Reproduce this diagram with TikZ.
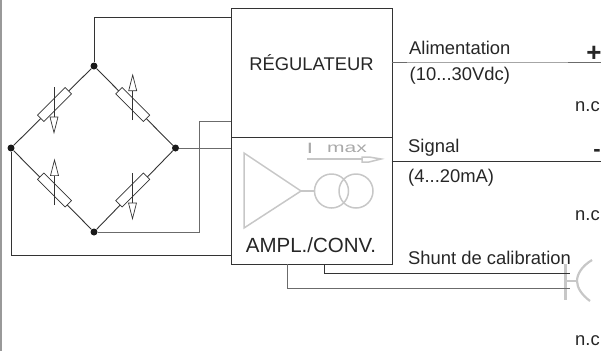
\documentclass[tikz,border=0pt]{standalone}
\usepackage{fontspec}
\setmainfont{Liberation Sans}
\definecolor{wire}{gray}{0.2}
\definecolor{wireb}{gray}{0.42}
\definecolor{wirec}{gray}{0.65}
\definecolor{ghost}{gray}{0.78}
\tikzset{
  px/.style={x=1pt,y=-1pt},
  ln/.style={draw=wire,line width=0.9pt},
  lng/.style={draw=wireb,line width=0.9pt},
  dotn/.style={circle,fill=black!90,inner sep=0pt,minimum size=7pt},
  res/.style={draw=wire,line width=0.7pt,fill=white,minimum width=39pt,minimum height=9pt,inner sep=0pt},
  lab/.style={inner sep=0pt,text=black!85,font=\fontsize{18.4}{20}\selectfont},
  ghostl/.style={draw=ghost,line width=1.5pt},
  head/.style={draw=wire,line width=0.7pt,fill=white}
}
\begin{document}
\begin{tikzpicture}[px]
\useasboundingbox (0,0) rectangle (601,351);
\fill[gray!80] (0,0) rectangle (1.8,351);
% box
\node[draw=wire,line width=0.9pt,minimum width=160.5pt,minimum height=128.5pt,inner sep=0pt,anchor=north west] (reg) at (231,8) {};
\node[draw=wire,line width=0.9pt,minimum width=160.5pt,minimum height=127.5pt,inner sep=0pt,anchor=north west] (amp) at (231,136.5) {};
\node[lab,anchor=base] (regt) at (311.5,70) {RÉGULATEUR};
\node[lab,anchor=base,font=\fontsize{20.5}{22}\selectfont] (ampt) at (311,252) {AMPL./CONV.};
% bridge nodes
\node[dotn] (t) at (94,66) {};
\node[dotn] (l) at (11,148) {};
\node[dotn] (r) at (175.5,148) {};
\node[dotn] (b) at (94,232) {};
% wires
\coordinate (c1) at (231,17);
\coordinate (c2) at (231,148);
\coordinate (c3) at (231,121);
\coordinate (c4) at (231,255);
\draw[ln] (t) -- (94,17) -- (c1);
\draw[lng] (r) -- (c2);
\draw[lng] (b) -- (199,232) -- (199,121) -- (c3);
\draw[ln] (l) -- (11,255) -- (c4);
% bridge arms
\draw[ln] (t) -- (l) (t) -- (r) (b) -- (l) (b) -- (r);
\node[res,rotate=45] (r1) at (54.5,104.5) {};
\node[res,rotate=-45] (r2) at (132.7,104.5) {};
\node[res,rotate=-45] (r3) at (54.5,190) {};
\node[res,rotate=45] (r4) at (132.7,190) {};
% strain arrows
\draw[ln,line width=.7pt] (54,87) -- (54,117);
\draw[head] (50,117) -- (58,117) -- (54,132.7) -- cycle;
\draw[ln,line width=.7pt] (132.7,120) -- (132.7,90.7);
\draw[head] (128.7,90.7) -- (136.7,90.7) -- (132.7,75) -- cycle;
\draw[ln,line width=.7pt] (54.5,205) -- (54.5,175.6);
\draw[head] (50.5,175.6) -- (58.5,175.6) -- (54.5,160) -- cycle;
\draw[ln,line width=.7pt] (132.5,173) -- (132.5,203);
\draw[head] (128.5,203) -- (136.5,203) -- (132.5,218.7) -- cycle;
% amplifier symbol
\draw[ghostl] (244,153) -- (244,228) -- (301,191) -- cycle;
\draw[ghostl] (301,191) -- (315,191);
\draw[ghostl] (331.5,191) circle (17);
\draw[ghostl] (356,191) circle (17);
\draw[ghostl] (307,159) -- (378,159);
\draw[ghostl,fill=white] (362,157) -- (369,157) -- (381,159) -- (369,162) -- (362,162) -- cycle;
\node[inner sep=0pt,anchor=base,text=ghost!85!black,font=\bfseries\fontsize{15}{16}\selectfont] (imaxi) at (310,153) {I};
\node[inner sep=0pt,anchor=base,text=ghost!85!black,xscale=1.5,font=\fontsize{14}{16}\selectfont] (imaxm) at (347,152.5) {max};
% connector
\draw[ghostl,line width=3pt] (565,264) -- (565,300);
\draw[ghostl,line width=2pt] (565,281) -- (577,281);
\draw[ghostl,line width=2.2pt] (592,260) .. controls (582,266) and (577,274) .. (577,281) .. controls (577,288) and (582,295) .. (590,301);
% outputs
\coordinate (o1) at (601,62);
\coordinate (o2) at (601,161);
\draw[wirec,line width=.9pt] (391.5,62) -- (o1);
\draw[lng] (391.5,62) -- (407,62) (568,62) -- (o1);
\draw[ln] (391.5,161) -- (o2);
\draw[ln] (324,264) -- (324,273) -- (570,273);
\draw[lng] (287,264) -- (287,288) -- (570,288);
% labels
\node[lab,anchor=base west] (a1) at (409,54) {Alimentation};
\node[lab,anchor=base west] (a2) at (409.5,80) {(10...30Vdc)};
\node[lab,anchor=base west] (a3) at (408,152) {Signal};
\node[lab,anchor=base west] (a4) at (408,182.5) {(4...20mA)};
\node[lab,anchor=base west] (a5) at (408,264) {Shunt de calibration};
\node[lab,anchor=base west] (n1) at (575,111.5) {n.c};
\node[lab,anchor=base west] (n2) at (575,220) {n.c};
\node[lab,anchor=base west] (n3) at (575,345.5) {n.c};
\node[inner sep=0pt,anchor=base,text=black!85,font=\bfseries\fontsize{26}{28}\selectfont] (plus) at (594,61) {+};
\node[inner sep=0pt,anchor=base,text=black!85,font=\bfseries\fontsize{22}{24}\selectfont] (minus) at (597,156) {-};
\end{tikzpicture}
\end{document}
